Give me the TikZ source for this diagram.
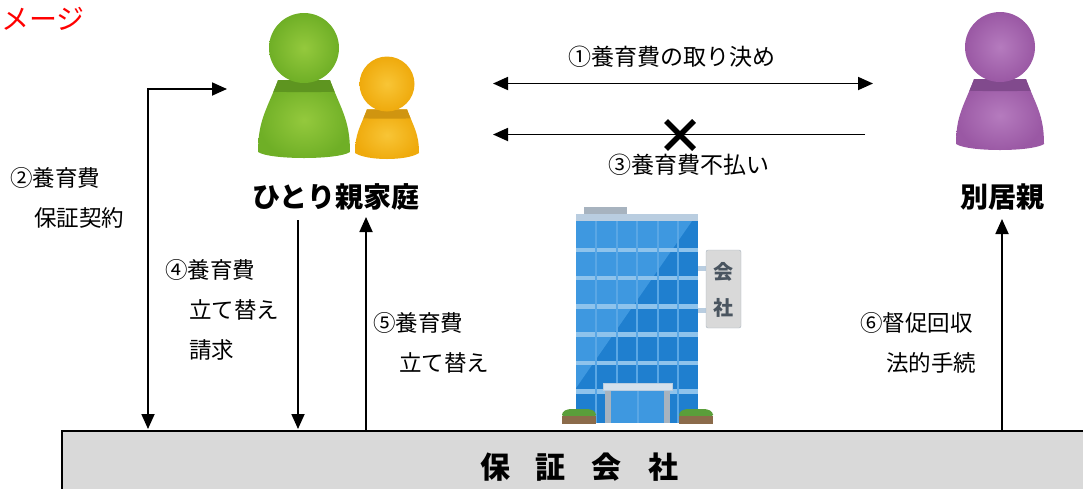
\documentclass[tikz,border=0pt]{standalone}
\usepackage{fontspec}
\setmainfont{Noto Sans CJK JP}
\usetikzlibrary{arrows.meta}

\definecolor{grnbase}{HTML}{6FAF26}
\definecolor{grnlight}{HTML}{94C93D}
\definecolor{grndark}{HTML}{5E9520}
\definecolor{orgbase}{HTML}{EFAA0C}
\definecolor{orglight}{HTML}{F8C536}
\definecolor{orgdark}{HTML}{D09510}
\definecolor{prpbase}{HTML}{9A58A4}
\definecolor{prplight}{HTML}{B57BBE}
\definecolor{prpdark}{HTML}{814A8D}
\definecolor{bldblue}{HTML}{1F7FCF}
\definecolor{bldlight}{HTML}{3E98E0}
\definecolor{bandblue}{HTML}{8EC3EC}
\definecolor{mullion}{HTML}{5AA7E5}
\definecolor{rimgray}{HTML}{B9CDE0}
\definecolor{roofgray}{HTML}{A7B3BF}
\definecolor{signgray}{HTML}{D9D9D9}
\definecolor{signtext}{HTML}{4A5560}
\definecolor{bushgreen}{HTML}{5A9E3A}
\definecolor{potbrown}{HTML}{8B6B4A}
\definecolor{boxgray}{HTML}{D9D9D9}

% pawn-shaped person: cx, cy, head radius, bottom y, bottom half-width, neck half-width, colour prefix
\newcommand{\pawnfig}[7]{%
  \pgfmathsetmacro{\pTop}{#2+0.92*#3}%
  \pgfmathsetmacro{\pH}{#4-\pTop}%
  \pgfmathsetmacro{\pCa}{\pTop+0.4*\pH}%
  \pgfmathsetmacro{\pCb}{#4-0.45*\pH}%
  \def\pawnbody{(#1-#6,\pTop) .. controls (#1-#6-0.15*\pH,\pCa) and (#1-#5,\pCb) .. (#1-#5,#4)
     .. controls (#1-#5+12,#4+8) and (#1+#5-12,#4+8) .. (#1+#5,#4)
     .. controls (#1+#5,\pCb) and (#1+#6+0.15*\pH,\pCa) .. (#1+#6,\pTop) -- cycle}%
  \shade[inner color=#7light, outer color=#7base] \pawnbody;
  \begin{scope}
    \clip \pawnbody;
    \fill[#7dark] (#1-2*#3,#2+0.7*#3) -- (#1+2*#3,#2+0.7*#3) -- (#1+2*#3,#2+1.2*#3)
      .. controls (#1+#3,#2+1.28*#3) and (#1-#3,#2+1.28*#3) .. (#1-2*#3,#2+1.2*#3) -- cycle;
  \end{scope}
  \shade[inner color=#7light, outer color=#7base] (#1,#2) circle[radius=#3];
}

\begin{document}
\begin{tikzpicture}[x=1pt,y=-1pt,
  conn/.style={line width=1.8pt},
  tip/.style={-{Triangle[length=15pt,width=13pt]}},
  tips/.style={{Triangle[length=15pt,width=13pt]}-{Triangle[length=15pt,width=13pt]}},
  label/.style={inner sep=0pt, align=left, font=\fontsize{22.5}{40}\selectfont},
  partyname/.style={inner sep=0pt, font=\fontsize{28}{30}\selectfont\bfseries},
]
\useasboundingbox (0,0) rectangle (1083,488);
\clip (0,0) rectangle (1083,488);

% heading fragment
\node[inner sep=0pt, anchor=west, text=red, font=\fontsize{28}{30}\selectfont] (head) at (1,19) {メージ};

% people
\pawnfig{304}{48}{35}{152}{46}{26}{grn}
\pawnfig{387}{84}{27.5}{153}{32}{20}{org}
\pawnfig{1000}{47}{35}{144}{44}{26}{prp}

\node[partyname] (family) at (336,197) {ひとり親家庭};
\node[partyname] (parent) at (1002,197) {別居親};

% guarantee company box
\draw[line width=2.6pt, fill=boxgray] (62,431) rectangle (1100,500);
\node[inner sep=0pt, font=\fontsize{30}{32}\selectfont\bfseries] (company) at (579,467)
  {保\hspace{26pt}証\hspace{26pt}会\hspace{26pt}社};

% office building
\fill[roofgray] (584,207) rectangle (627,216);
\fill[bldblue] (576,215) rectangle (698,423);
\fill[bldlight] (576,221) -- (692,221) -- (576,388) -- cycle;
\foreach \yy in {247.5,275.8,304.1,332.4,360.7,389} {
  \fill[bandblue] (576,\yy) rectangle (698,\yy+4.5);
}
\foreach \xx in {596,617,637,658,678} {
  \fill[mullion] (\xx-1,221) rectangle (\xx+1,423);
}
\fill[rimgray] (576,214) rectangle (698,221);
% entrance
\fill[roofgray] (605,390) rectangle (670,423);
\fill[bldlight] (611,390) rectangle (664,423);
\fill[mullion] (636.5,390) rectangle (638.5,423);
\fill[rimgray!60!white, draw=rimgray] (603,383) rectangle (672,390);
% shrubs
\fill[bushgreen, rounded corners=3pt] (562,417) -- (562,412) -- (568,409) -- (590,409) -- (596,412) -- (596,417) -- cycle;
\fill[potbrown] (562,416) rectangle (596,424);
\fill[bushgreen, rounded corners=3pt] (679,417) -- (679,412) -- (685,409) -- (707,409) -- (713,412) -- (713,417) -- cycle;
\fill[potbrown] (679,416) rectangle (713,424);
% sign board
\fill[rimgray] (698,266) rectangle (706,271);
\fill[rimgray] (698,308) rectangle (706,313);
\fill[signgray, draw=roofgray, rounded corners=2pt] (706,250) rectangle (741,328);
\node[inner sep=0pt, align=center, text=signtext, font=\fontsize{20}{36}\selectfont\bfseries] (sign) at (723.5,290) {会\\社};

% connector end points
\coordinate (g1L) at (493,83.5);
\coordinate (g1R) at (873,83.5);
\coordinate (g3S) at (865,134.5);
\coordinate (g3E) at (493,134.5);
\coordinate (g2T) at (227,89);
\coordinate (g2B) at (148,429);
\coordinate (g4S) at (298,220);
\coordinate (g4E) at (298,429);
\coordinate (g5S) at (366,431);
\coordinate (g5E) at (366,217);
\coordinate (g6S) at (1002,431);
\coordinate (g6E) at (1002,219);

% connectors
\draw[conn, tips] (g1L) -- (g1R);
\draw[conn, tip] (g3S) -- (g3E);
\draw[line width=5.5pt] (666,121) -- (694,149) (666,149) -- (694,121);
\draw[conn, tips] (g2T) -| (g2B);
\draw[conn, tip] (g4S) -- (g4E);
\draw[conn, tip] (g5S) -- (g5E);
\draw[conn, tip] (g6S) -- (g6E);

% labels
\node[inner sep=0pt, font=\fontsize{23}{30}\selectfont] (l1) at (672,57) {①養育費の取り決め};
\node[inner sep=0pt, font=\fontsize{23}{30}\selectfont] (l3) at (689,165) {③養育費不払い};
\node[label, anchor=north west] (l2) at (10,167) {②養育費\\\hspace*{24pt}保証契約};
\node[label, anchor=north west] (l4) at (165,259) {④養育費\\\hspace*{24pt}立て替え\\\hspace*{24pt}請求};
\node[label, anchor=north west] (l5) at (373,312) {⑤養育費\\\hspace*{26pt}立て替え};
\node[label, anchor=north west] (l6) at (860,312) {⑥督促回収\\\hspace*{26pt}法的手続};
\end{tikzpicture}
\end{document}
